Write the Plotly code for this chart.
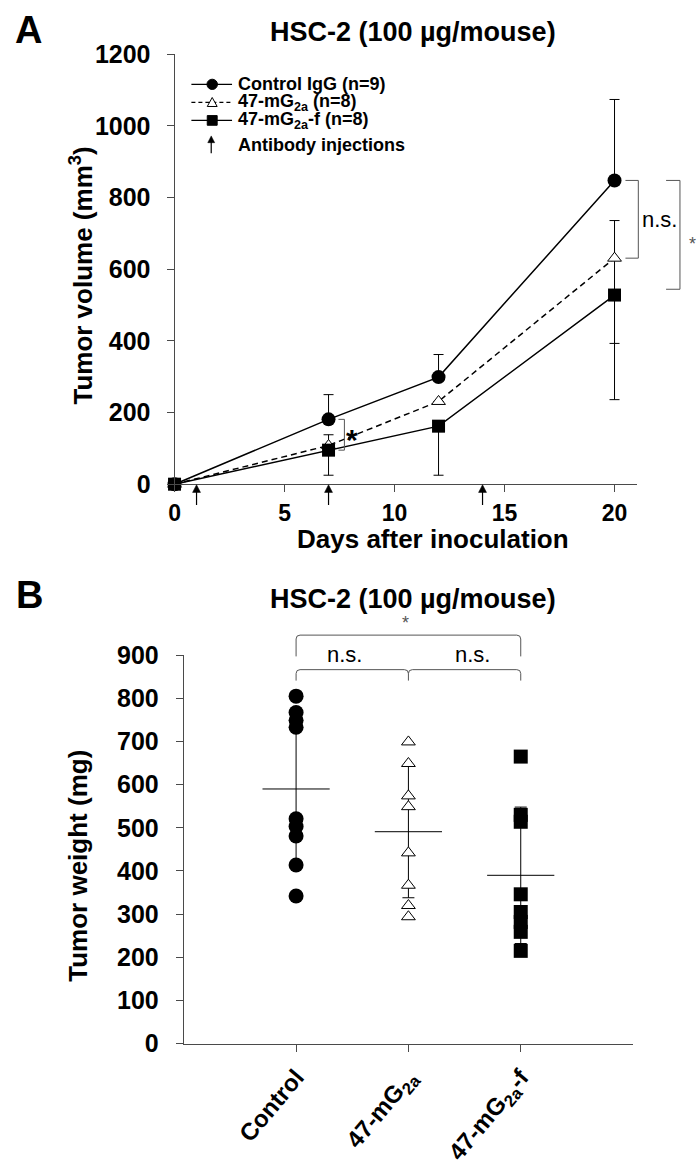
import plotly.graph_objects as go

W, H = 698, 1168

# ---------------- Data: panel A (tumor volume, mm3) ----------------
days = [0, 7, 12, 20]
control_vol = [0, 181, 299, 848]
mg2a_vol = [0, 108, 231, 631]
mg2af_vol = [0, 95, 162, 528]
control_err_up = [0, 69, 63, 226]
control_err_dn = [0, 0, 0, 0]
mg2a_err_up = [0, 30, 0, 105]
mg2a_err_dn = [0, 0, 0, 238]
mg2af_err_up = [0, 0, 0, 0]
mg2af_err_dn = [0, 70, 137, 292]
injection_days = [1, 7, 14]

# ---------------- Data: panel B (tumor weight, mg) ----------------
groups = ["Control", "47-mG<sub>2a</sub>", "47-mG<sub>2a</sub>-f"]
control_w = [805, 767, 749, 733, 521, 503, 481, 414, 342]
mg2a_w = [699, 649, 574, 549, 442, 367, 320, 294]
mg2af_w = [665, 530, 514, 346, 305, 282, 259, 215]
group_mean = [590, 491, 390]
group_sd = [173, 153, 158]

FONT = "Liberation Sans, Arial, Helvetica, sans-serif"
AX_COLOR = "#4a4a4a"

# pixel geometry of the two plot areas
A_L, A_R, A_B, A_T = 170, 636, 486, 41.7
B_L, B_R, B_B, B_T = 179.3, 632.5, 1064.3, 662.7
A_XR, A_YR = [0, 21], [0, 1200]
B_XR, B_YR = [0, 4], [0, 900]


def px(x):
    return x / W


def py(y):
    return 1 - y / H


def a_xpx(d):
    return A_L + (A_R - A_L) * (d - A_XR[0]) / (A_XR[1] - A_XR[0])


def a_ypx(v):
    return A_B - (A_B - A_T) * (v - A_YR[0]) / (A_YR[1] - A_YR[0])


def b_xpx(c):
    return B_L + (B_R - B_L) * (c - B_XR[0]) / (B_XR[1] - B_XR[0])


def text_ann(x, y, text, size, bold=True, color="black", angle=0, xanchor="center"):
    f = dict(family=FONT, size=size, color=color)
    if bold:
        f["weight"] = "bold"
    return dict(x=px(x), y=py(y), xref="paper", yref="paper", text=text, showarrow=False,
                xanchor=xanchor, yanchor="middle", textangle=angle, font=f)


def arrow_shapes(x, tip, length=21, head=8, half=4):
    """Upward arrow (pixel coords) drawn as a stem plus a filled head."""
    return [
        dict(type="line", xref="paper", yref="paper", x0=px(x), x1=px(x),
             y0=py(tip + head - 1), y1=py(tip + length), line=dict(color="black", width=1.2)),
        dict(type="path", xref="paper", yref="paper",
             path=(f"M {px(x)},{py(tip)} L {px(x - half)},{py(tip + head)} "
                   f"L {px(x + half)},{py(tip + head)} Z"),
             fillcolor="black", line=dict(color="black", width=0.5)),
    ]


fig = go.Figure()

# ---------------- Panel A traces ----------------
fig.add_trace(go.Scatter(
    x=days, y=control_vol, mode="lines+markers", name="Control IgG (n=9)",
    line=dict(color="black", width=1.5),
    marker=dict(symbol="circle", size=14, color="black"),
    error_y=dict(type="data", symmetric=False, array=control_err_up,
                 arrayminus=control_err_dn, color="black", thickness=1, width=5),
    cliponaxis=False, xaxis="x", yaxis="y", showlegend=False))
fig.add_trace(go.Scatter(
    x=days, y=mg2a_vol, mode="lines+markers", name="47-mG2a (n=8)",
    line=dict(color="black", width=1.5, dash="6px,4px"),
    marker=dict(symbol="triangle-up", size=12, color="white",
                line=dict(color="black", width=1)),
    error_y=dict(type="data", symmetric=False, array=mg2a_err_up,
                 arrayminus=mg2a_err_dn, color="black", thickness=1, width=5),
    cliponaxis=False, xaxis="x", yaxis="y", showlegend=False))
fig.add_trace(go.Scatter(
    x=days, y=mg2af_vol, mode="lines+markers", name="47-mG2a-f (n=8)",
    line=dict(color="black", width=1.5),
    marker=dict(symbol="square", size=13, color="black"),
    error_y=dict(type="data", symmetric=False, array=mg2af_err_up,
                 arrayminus=mg2af_err_dn, color="black", thickness=1, width=5),
    cliponaxis=False, xaxis="x", yaxis="y", showlegend=False))

# ---------------- Panel B traces ----------------
fig.add_trace(go.Scatter(
    x=[1, 2, 3], y=group_mean, mode="markers", name="mean ± SD",
    marker=dict(symbol="line-ew", size=48, color="black",
                line=dict(color="black", width=1)),
    error_y=dict(type="data", array=group_sd, color="black", thickness=1, width=6),
    cliponaxis=False, xaxis="x2", yaxis="y2", showlegend=False))
fig.add_trace(go.Scatter(
    x=[1] * len(control_w), y=control_w, mode="markers", name="Control",
    marker=dict(symbol="circle", size=15, color="black"),
    cliponaxis=False, xaxis="x2", yaxis="y2", showlegend=False))
fig.add_trace(go.Scatter(
    x=[2] * len(mg2a_w), y=mg2a_w, mode="markers", name="47-mG2a",
    marker=dict(symbol="triangle-up", size=12, color="white",
                line=dict(color="black", width=1)),
    cliponaxis=False, xaxis="x2", yaxis="y2", showlegend=False))
fig.add_trace(go.Scatter(
    x=[3] * len(mg2af_w), y=mg2af_w, mode="markers", name="47-mG2a-f",
    marker=dict(symbol="square", size=14, color="black"),
    cliponaxis=False, xaxis="x2", yaxis="y2", showlegend=False))

shapes = []
annotations = []

# ---------- injection arrows (panel A) ----------
for d in injection_days:
    shapes += arrow_shapes(a_xpx(d), A_B + 0.5)

# ---------- manual legend (panel A) ----------
leg_x0, leg_x1, leg_mx, leg_tx = 187, 228, 208, 232
rows = [72.7, 91.3, 110, 135]
labels = ["Control IgG (n=9)", "47-mG<sub>2a</sub> (n=8)",
          "47-mG<sub>2a</sub>-f (n=8)", "Antibody injections"]
for i, yy in enumerate(rows[:3]):
    shapes.append(dict(type="line", xref="paper", yref="paper",
                       x0=px(leg_x0), x1=px(leg_x1), y0=py(yy), y1=py(yy),
                       line=dict(color="black", width=1.3,
                                 dash="4px,3px" if i == 1 else "solid")))
r = 5.3
shapes.append(dict(type="circle", xref="paper", yref="paper",
                   x0=px(leg_mx - r), x1=px(leg_mx + r), y0=py(rows[0] + r), y1=py(rows[0] - r),
                   fillcolor="black", line=dict(color="black", width=1)))
t = 5
shapes.append(dict(type="path", xref="paper", yref="paper",
                   path=(f"M {px(leg_mx - t)},{py(rows[1] + 4.3)} L {px(leg_mx + t)},{py(rows[1] + 4.3)} "
                         f"L {px(leg_mx)},{py(rows[1] - 5)} Z"),
                   fillcolor="white", line=dict(color="black", width=1)))
s = 5
shapes.append(dict(type="rect", xref="paper", yref="paper",
                   x0=px(leg_mx - s), x1=px(leg_mx + s), y0=py(rows[2] + s), y1=py(rows[2] - s),
                   fillcolor="black", line=dict(color="black", width=1)))
shapes += arrow_shapes(207, 126, length=18, head=7, half=3.5)
for yy, lab in zip(rows, labels):
    annotations.append(text_ann(leg_tx, yy, lab, 18, xanchor="left"))

# ---------- significance brackets panel A ----------
x7 = a_xpx(7)
yc7, ys7 = a_ypx(control_vol[1]), a_ypx(mg2af_vol[1])
shapes.append(dict(type="path", xref="paper", yref="paper",
                   path=(f"M {px(x7 + 10)},{py(yc7)} L {px(x7 + 16)},{py(yc7)} "
                         f"L {px(x7 + 16)},{py(ys7)} L {px(x7 + 10)},{py(ys7)}"),
                   line=dict(color="#555555", width=1)))
annotations.append(text_ann(x7 + 24, (yc7 + ys7) / 2 + 5, "*", 30))
x20 = a_xpx(20)
yc20, yt20, ys20 = a_ypx(control_vol[3]), a_ypx(mg2a_vol[3]), a_ypx(mg2af_vol[3])
shapes.append(dict(type="path", xref="paper", yref="paper",
                   path=(f"M {px(x20 + 11)},{py(yc20)} L {px(x20 + 24)},{py(yc20)} "
                         f"L {px(x20 + 24)},{py(yt20)} L {px(x20 + 11)},{py(yt20)}"),
                   line=dict(color="#555555", width=1)))
annotations.append(text_ann(x20 + 45, (yc20 + yt20) / 2, "n.s.", 22, bold=False))
shapes.append(dict(type="path", xref="paper", yref="paper",
                   path=(f"M {px(x20 + 52)},{py(yc20)} L {px(x20 + 66)},{py(yc20)} "
                         f"L {px(x20 + 66)},{py(ys20 - 6)} L {px(x20 + 52)},{py(ys20 - 6)}"),
                   line=dict(color="#555555", width=1)))
annotations.append(text_ann(x20 + 79, 238, "*", 18, bold=False, color="#555555"))

# ---------- significance brackets panel B ----------
c1, c2, c3 = b_xpx(1), b_xpx(2), b_xpx(3)
yt, yl = 642, 664
shapes.append(dict(type="path", xref="paper", yref="paper",
                   path=(f"M {px(c1)},{py(yl)} L {px(c1)},{py(yt + 4)} Q {px(c1)},{py(yt)} {px(c1 + 4)},{py(yt)} "
                         f"L {px(c3 - 4)},{py(yt)} Q {px(c3)},{py(yt)} {px(c3)},{py(yt + 4)} L {px(c3)},{py(yl)}"),
                   line=dict(color="#555555", width=1)))
yt2, yl2 = 677.7, 689
shapes.append(dict(type="path", xref="paper", yref="paper",
                   path=(f"M {px(c1)},{py(yl2)} L {px(c1)},{py(yt2 + 4)} Q {px(c1)},{py(yt2)} {px(c1 + 4)},{py(yt2)} "
                         f"L {px(c2 - 4)},{py(yt2)} Q {px(c2)},{py(yt2)} {px(c2)},{py(yt2 + 4)} L {px(c2)},{py(yl2)} "
                         f"M {px(c2)},{py(yt2 + 4)} Q {px(c2)},{py(yt2)} {px(c2 + 4)},{py(yt2)} "
                         f"L {px(c3 - 4)},{py(yt2)} Q {px(c3)},{py(yt2)} {px(c3)},{py(yt2 + 4)} L {px(c3)},{py(yl2)}"),
                   line=dict(color="#555555", width=1)))
annotations.append(text_ann((c1 + c2) / 2 - 8, 662, "n.s.", 22, bold=False))
annotations.append(text_ann((c2 + c3) / 2 + 8, 662, "n.s.", 22, bold=False))
annotations.append(text_ann(c2 - 3, 629, "*", 18, bold=False, color="#555555"))

# ---------- titles, panel letters, axis titles ----------
annotations += [
    text_ann(23, 17, "A", 38),
    text_ann(24, 601, "B", 38),
    text_ann(411, 19, "HSC-2 (100 µg/mouse)", 27),
    text_ann(411, 605, "HSC-2 (100 µg/mouse)", 27),
    text_ann(76, 270, "Tumor volume (mm<sup>3</sup>)", 26, angle=-90),
    text_ann(431, 543, "Days after inoculation", 26),
    text_ann(73, 880, "Tumor weight (mg)", 26, angle=-90),
]

axis_common = dict(showgrid=False, zeroline=False, showline=True, linecolor=AX_COLOR,
                   linewidth=1, ticks="outside", ticklen=7, tickcolor=AX_COLOR, tickwidth=1)


def tf(size):
    return dict(family=FONT, size=size, color="black", weight="bold")


fig.update_layout(
    width=W, height=H, margin=dict(l=0, r=0, t=0, b=0),
    paper_bgcolor="white", plot_bgcolor="white", showlegend=False,
    xaxis=dict(domain=[px(A_L), px(A_R)], range=A_XR, anchor="y",
               tickvals=[0, 5, 10, 15, 20], ticklabelstandoff=1, tickfont=tf(23), **axis_common),
    yaxis=dict(domain=[py(A_B), py(A_T)], range=A_YR, anchor="x",
               tickvals=[0, 200, 400, 600, 800, 1000, 1200], ticklabelstandoff=11,
               tickfont=tf(25), **axis_common),
    xaxis2=dict(domain=[px(B_L), px(B_R)], range=B_XR, anchor="y2",
                tickvals=[1, 2, 3], ticktext=groups, tickangle=-50, ticklabelstandoff=2,
                tickfont=tf(24), **axis_common),
    yaxis2=dict(domain=[py(B_B), py(B_T)], range=B_YR, anchor="x2",
                tickvals=list(range(0, 1000, 100)), ticklabelstandoff=12,
                tickfont=tf(25), **axis_common),
    shapes=shapes, annotations=annotations,
)

fig.write_html("out.html", config={"displayModeBar": False},
               post_script="document.body.style.margin='0';")
